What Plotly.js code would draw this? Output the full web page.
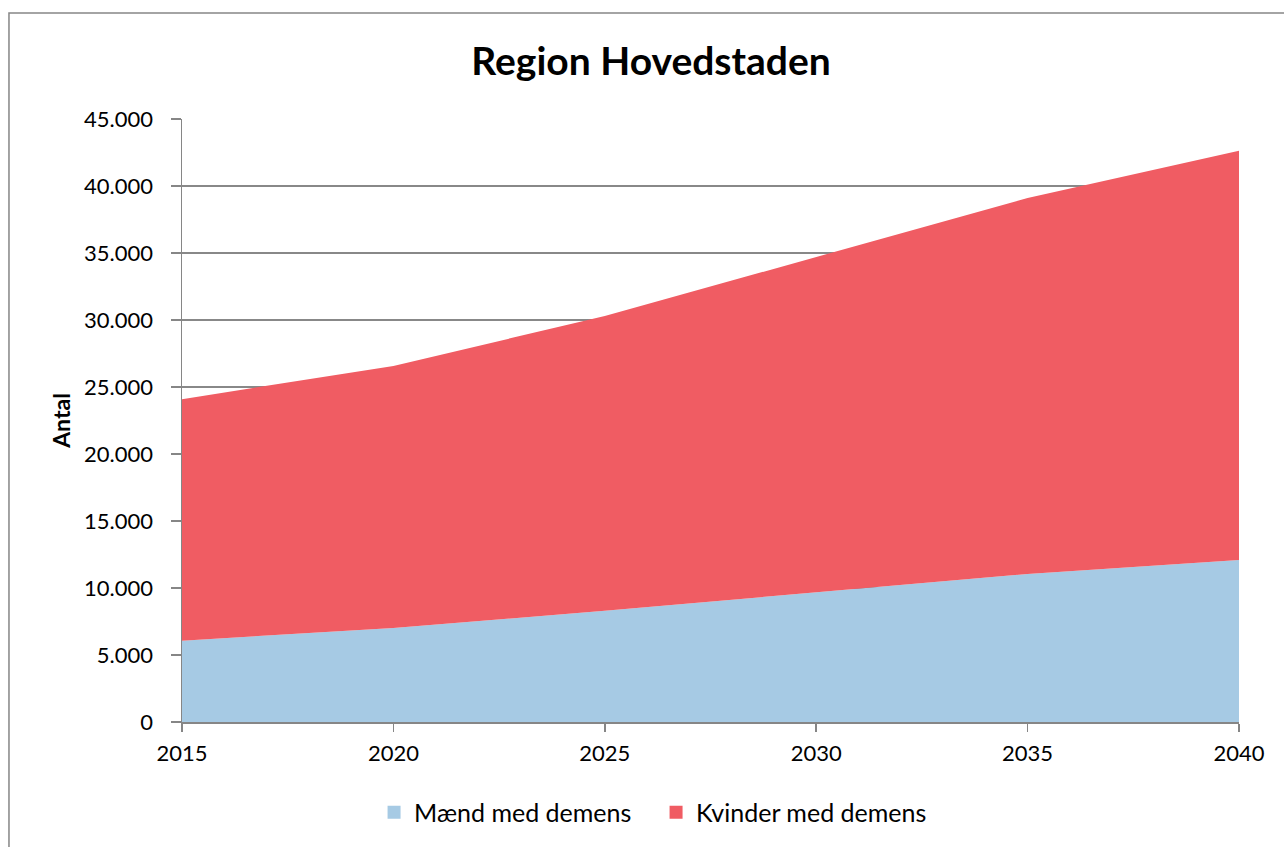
<!DOCTYPE html>
<html>
<head>
<meta charset="utf-8">
<script src="https://cdn.plot.ly/plotly-3.0.1.min.js"></script>
<style>html,body{margin:0;padding:0;background:#fff;}#chart{width:1284px;height:847px;}</style>
</head>
<body>
<div id="chart"></div>
<script>
const years = [2015, 2020, 2025, 2030, 2035, 2040];
const maend = [6070, 7020, 8300, 9700, 11050, 12090];
const kvinderTotal = [24090, 26570, 30300, 34700, 39100, 42630];
const kvinder = kvinderTotal.map((t, i) => t - maend[i]);
const seriesNames = ['Mænd med demens', 'Kvinder med demens'];
const seriesColors = ['#A6CAE4', '#F05C63'];
const yTicks = [0, 5000, 10000, 15000, 20000, 25000, 30000, 35000, 40000, 45000];

const fontFam = 'Lato, "Open Sans", sans-serif';
const traces = [
  {x: years, y: maend, name: seriesNames[0], type: 'scatter', mode: 'lines', showlegend: false,
   stackgroup: 'one', line: {width: 0, color: seriesColors[0]}, fillcolor: seriesColors[0]},
  {x: years, y: kvinder, name: seriesNames[1], type: 'scatter', mode: 'lines', showlegend: false,
   stackgroup: 'one', line: {width: 0, color: seriesColors[1]}, fillcolor: seriesColors[1]},
  // legend entries (square swatches)
  {x: [null], y: [null], name: seriesNames[0], type: 'scatter', mode: 'markers',
   marker: {symbol: 'square', size: 13, color: seriesColors[0]}},
  {x: [null], y: [null], name: seriesNames[1], type: 'scatter', mode: 'markers',
   marker: {symbol: 'square', size: 13, color: seriesColors[1]}}
];
const layout = {
  width: 1284, height: 847,
  margin: {l: 182, r: 45, t: 119, b: 125},
  paper_bgcolor: '#fff', plot_bgcolor: '#fff',
  separators: ',.',
  font: {family: fontFam, size: 22, color: '#000'},
  title: {text: '<b>Region Hovedstaden</b>', font: {family: fontFam, size: 39, color: '#000'},
          x: 0.507, xref: 'container', xanchor: 'center', y: 0.927, yref: 'container', yanchor: 'middle'},
  showlegend: true,
  legend: {orientation: 'h', x: 0.4485, xanchor: 'center', y: -0.15, yanchor: 'middle',
           traceorder: 'normal', font: {family: fontFam, size: 25, color: '#000'}, itemwidth: 30,
           entrywidth: 237},
  xaxis: {range: [2015, 2040], tickvals: years, ticktext: years.map(String),
          showgrid: false, zeroline: false, showline: true, linecolor: '#868686', linewidth: 1.5,
          ticks: 'outside', ticklen: 8, tickcolor: '#868686', tickwidth: 1.5, ticklabelstandoff: 3,
          tickfont: {family: fontFam, size: 22, color: '#000'}},
  yaxis: {range: [0, 45000], tickvals: yTicks, tickformat: ',d',
          showgrid: true, gridcolor: '#888888', gridwidth: 1.3, zeroline: false,
          showline: true, linecolor: '#868686', linewidth: 1.5,
          ticks: 'outside', ticklen: 10, tickcolor: '#868686', tickwidth: 1.5, ticklabelstandoff: 13,
          tickfont: {family: fontFam, size: 22, color: '#000'},
          title: {text: '<b>Antal</b>', font: {family: fontFam, size: 23, color: '#000'}, standoff: 7}},
  shapes: [{type: 'rect', xref: 'paper', yref: 'paper', x0: -0.1637, x1: 1.06, y0: -0.25, y1: 1.1758,
            line: {color: '#868686', width: 1.5}, fillcolor: 'rgba(0,0,0,0)', layer: 'below'}]
};
Plotly.newPlot('chart', traces, layout, {displayModeBar: false, staticPlot: true});
</script>
</body>
</html>
